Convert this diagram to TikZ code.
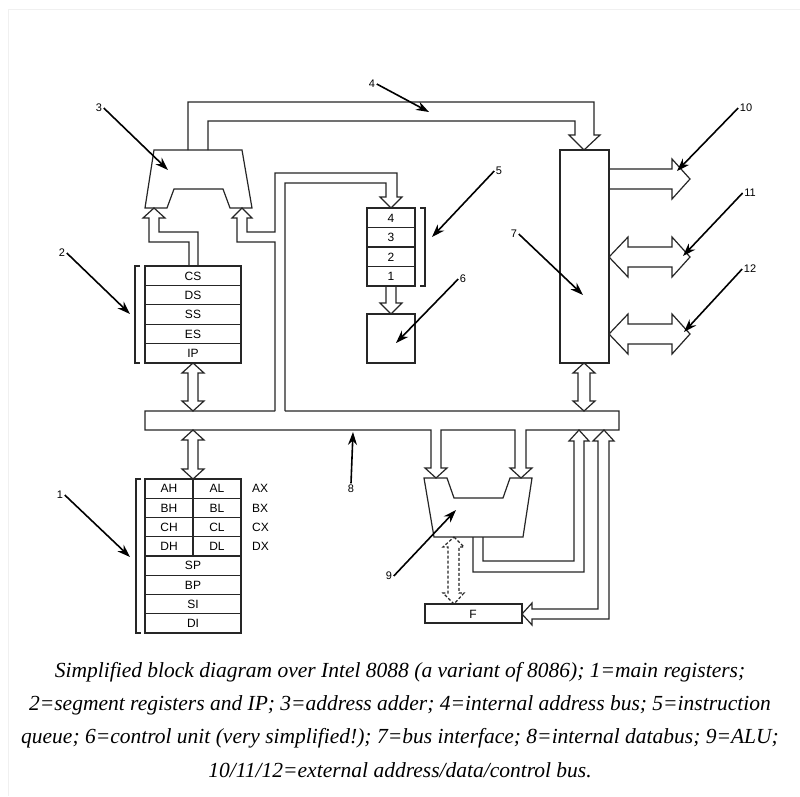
\documentclass[tikz,border=0pt]{standalone}
\usepackage{fontspec}
\setmainfont{Liberation Serif}
\setsansfont{Liberation Sans}
\usetikzlibrary{arrows.meta}
\begin{document}
\begin{tikzpicture}[x=1pt,y=-1pt,
  ln/.style={line width=1.2pt, draw=black!85, line join=miter},
  dln/.style={ln, dash pattern=on 3pt off 2pt},
  lbl/.style={font=\sffamily\fontsize{11}{11}\selectfont, inner sep=1.5pt},
  reg/.style={font=\sffamily\fontsize{12}{12}\selectfont, inner sep=0pt},
  ptr/.style={line width=1.6pt, draw=black, -{Stealth[length=13pt,width=9pt]}},
  capt/.style={font=\itshape\fontsize{21.5}{21.5}\selectfont, inner sep=0pt, anchor=base}]
\useasboundingbox (0,0) rectangle (800,796);
\fill[white] (0,0) rectangle (800,796);
\draw[gray!12, line width=1pt] (8,796) -- (8,9) -- (800,9);

% ---------- address adder (3)
\draw[ln] (154,150) -- (242,150) -- (252,208) -- (230,208) -- (223,189) -- (174,189) -- (167,208) -- (145,208) -- cycle;

% ---------- internal address bus (4)
\draw[ln] (188,150) -- (188,102) -- (594,102) -- (594,135) -- (600,135) -- (584,150) -- (569,135) -- (575,135) -- (575,121) -- (208,121) -- (208,150);

% ---------- bus interface (7)
\draw[ln] (560,150) rectangle (609,363);

% external buses 10, 11, 12
\draw[ln] (609,169) -- (672,169) -- (672,159) -- (690,179) -- (672,199) -- (672,189) -- (609,189);
\draw[ln] (609,257) -- (628,237) -- (628,247) -- (672,247) -- (672,237) -- (690,257) -- (672,277) -- (672,267) -- (628,267) -- (628,277) -- cycle;
\draw[ln] (609,334) -- (628,314) -- (628,324) -- (672,324) -- (672,314) -- (690,334) -- (672,354) -- (672,344) -- (628,344) -- (628,354) -- cycle;

% ---------- segment registers (2)
\draw[ln] (145,266) rectangle (241,363);
\foreach \yy in {285.4,304.8,324.2,343.6} \draw[ln] (145,\yy) -- (241,\yy);
\node[reg] (cs) at (193,276) {CS};
\node[reg] (ds) at (193,295.5) {DS};
\node[reg] (ss) at (193,314.8) {SS};
\node[reg] (es) at (193,334.2) {ES};
\node[reg] (ip) at (193,353.5) {IP};
\draw[ln] (140,266) -- (135,266) -- (135,363) -- (140,363);

% CS -> adder left input
\draw[ln] (189,266) -- (189,242) -- (149,242) -- (149,218) -- (143,218) -- (154,208) -- (165,218) -- (159,218) -- (159,232) -- (198,232) -- (198,266);

% databus -> adder right input and -> instruction queue
\draw[ln] (275,411) -- (275,242) -- (237,242) -- (237,218) -- (232,218) -- (242,208) -- (252,218) -- (247,218) -- (247,232) -- (275,232) -- (275,173) -- (397,173) -- (397,197) -- (402,197) -- (391,208) -- (380,197) -- (386,197) -- (386,183) -- (285,183) -- (285,411);

% ---------- instruction queue (5)
\draw[ln] (367,208) rectangle (415,286);
\foreach \yy in {227.5,247,266.5} \draw[ln] (367,\yy) -- (415,\yy);
\node[reg] (q4) at (391,218) {4};
\node[reg] (q3) at (391,237.5) {3};
\node[reg] (q2) at (391,257) {2};
\node[reg] (q1) at (391,276.5) {1};
\draw[ln] (420,208) -- (425,208) -- (425,286) -- (420,286);

% queue -> control unit
\draw[ln] (386,286) -- (386,303) -- (380,303) -- (391,314) -- (402,303) -- (396,303) -- (396,286);

% ---------- control unit (6)
\draw[ln] (367,314) rectangle (415,363);

% ---------- internal databus (8) with ALU inputs
\draw[ln] (275,411) -- (145,411) -- (145,430) -- (431,430) -- (431,468) -- (425,468) -- (436,478) -- (447,468) -- (441,468) -- (441,430) -- (515,430) -- (515,468) -- (510,468) -- (521,478) -- (532,468) -- (526,468) -- (526,430) -- (619,430) -- (619,411) -- (285,411);

% segment regs <-> databus
\draw[ln] (193,363) -- (204,373) -- (198,373) -- (198,401) -- (204,401) -- (193,411) -- (182,401) -- (188,401) -- (188,373) -- (182,373) -- cycle;
% databus <-> main regs
\draw[ln] (193,430) -- (204,440) -- (198,440) -- (198,469) -- (204,469) -- (193,479) -- (182,469) -- (188,469) -- (188,440) -- (182,440) -- cycle;
% bus interface <-> databus
\draw[ln] (584,363) -- (595,373) -- (590,373) -- (590,401) -- (595,401) -- (584,411) -- (573,401) -- (578,401) -- (578,373) -- (573,373) -- cycle;

% ---------- ALU (9)
\draw[ln] (424,478) -- (447,478) -- (454,498) -- (503,498) -- (510,478) -- (532,478) -- (523,537) -- (434,537) -- cycle;

% ALU result -> databus
\draw[ln] (473,537) -- (473,572) -- (584,572) -- (584,441) -- (589,441) -- (579,430) -- (569,441) -- (574,441) -- (574,561) -- (483,561) -- (483,537);

% databus <-> flags
\draw[ln] (532,609) -- (598,609) -- (598,441) -- (593,441) -- (604,430) -- (614,441) -- (609,441) -- (609,619) -- (532,619) -- (532,625) -- (522,614) -- (532,603) -- cycle;

% ALU <-> flags (dashed)
\draw[dln] (454,537) -- (464,547) -- (459,547) -- (459,593) -- (464,593) -- (454,604) -- (443,593) -- (448,593) -- (448,547) -- (443,547) -- cycle;

% flags
\draw[ln] (425,604) rectangle (522,623);
\node[reg] (f) at (473,614) {F};

% ---------- main registers (1)
\draw[ln] (145,479) rectangle (241,633);
\foreach \yy in {498.25,517.5,536.75,556,575.25,594.5,613.75} \draw[ln] (145,\yy) -- (241,\yy);
\draw[ln] (193,479) -- (193,556);
\node[reg] (ah) at (169,488.6) {AH};
\node[reg] (al) at (217,488.6) {AL};
\node[reg] (bh) at (169,507.9) {BH};
\node[reg] (bl) at (217,507.9) {BL};
\node[reg] (ch) at (169,527.1) {CH};
\node[reg] (cl) at (217,527.1) {CL};
\node[reg] (dh) at (169,546.4) {DH};
\node[reg] (dl) at (217,546.4) {DL};
\node[reg] (sp) at (193,565.6) {SP};
\node[reg] (bp) at (193,584.9) {BP};
\node[reg] (si) at (193,604.1) {SI};
\node[reg] (di) at (193,623.4) {DI};
\node[reg, anchor=west] (ax) at (252,488.6) {AX};
\node[reg, anchor=west] (bx) at (252,507.9) {BX};
\node[reg, anchor=west] (cx) at (252,527.1) {CX};
\node[reg, anchor=west] (dx) at (252,546.4) {DX};
\draw[ln] (141,479) -- (136,479) -- (136,633) -- (141,633);

% ---------- label pointers
\coordinate (t1) at (130,557);
\coordinate (t2) at (130,314);
\coordinate (t3) at (168,170);
\coordinate (t4) at (429,112);
\coordinate (t5) at (432,237);
\coordinate (t6) at (396,343);
\coordinate (t7) at (583,295);
\coordinate (t8) at (353,432);
\coordinate (t9) at (456,510);
\coordinate (t10) at (677,171);
\coordinate (t11) at (683,256);
\coordinate (t12) at (684,332);
\node[lbl] (n1) at (60,495) {1};
\node[lbl] (n2) at (62,253) {2};
\node[lbl] (n3) at (99,108) {3};
\node[lbl] (n4) at (372,84) {4};
\node[lbl] (n5) at (499,171) {5};
\node[lbl] (n6) at (463,279) {6};
\node[lbl] (n7) at (514,234) {7};
\node[lbl] (n8) at (351,489) {8};
\node[lbl] (n9) at (389,576) {9};
\node[lbl] (n10) at (746,108) {10};
\node[lbl] (n11) at (750,193) {11};
\node[lbl] (n12) at (750,269) {12};
\draw[ptr] (n1.east) -- (t1);
\draw[ptr] (n2.east) -- (t2);
\draw[ptr] (n3.east) -- (t3);
\draw[ptr] (n4.east) -- (t4);
\draw[ptr] (n5.west) -- (t5);
\draw[ptr] (n6.west) -- (t6);
\draw[ptr] (n7.east) -- (t7);
\draw[ptr] (n8.north) -- (t8);
\draw[ptr] (n9.east) -- (t9);
\draw[ptr] (n10.west) -- (t10);
\draw[ptr] (n11.west) -- (t11);
\draw[ptr] (n12.west) -- (t12);

% ---------- caption
\node[capt] (c1) at (400,677) {Simplified block diagram over Intel 8088 (a variant of 8086); 1=main registers;};
\node[capt] (c2) at (400,710) {2=segment registers and IP; 3=address adder; 4=internal address bus; 5=instruction};
\node[capt] (c3) at (400,743) {queue; 6=control unit (very simplified!); 7=bus interface; 8=internal databus; 9=ALU;};
\node[capt] (c4) at (400,777) {10/11/12=external address/data/control bus.};
\end{tikzpicture}
\end{document}
